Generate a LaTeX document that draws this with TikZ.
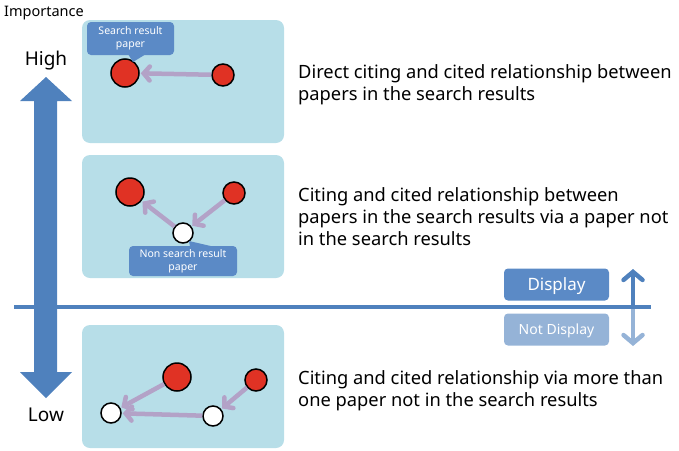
\documentclass[tikz,border=0pt]{standalone}
\usepackage{fontspec}
\setmainfont{Noto Sans}
\usetikzlibrary{arrows.meta}
\definecolor{arrblue}{HTML}{4F81BD}
\definecolor{panel}{HTML}{B7DEE8}
\definecolor{redn}{HTML}{E03224}
\definecolor{lav}{HTML}{B3A2C7}
\definecolor{callc}{HTML}{5B8AC6}
\definecolor{lightb}{HTML}{95B3D7}
\tikzset{
  panelbox/.style={fill=panel, rounded corners=8pt, draw=none},
  bigred/.style={circle, fill=redn, draw=black, line width=1.5pt, minimum size=28pt, inner sep=0pt},
  smallred/.style={circle, fill=redn, draw=black, line width=1.5pt, minimum size=22pt, inner sep=0pt},
  wnode/.style={circle, fill=white, draw=black, line width=1.5pt, minimum size=20pt, inner sep=0pt},
  cite/.style={draw=lav, line width=4.5pt, -{Straight Barb[length=6pt,width=14pt,line cap=round]}, shorten >=1pt, shorten <=0pt},
  callbox/.style={fill=callc, rounded corners=4pt, text=white, font=\fontsize{10.5}{13}\selectfont, align=center, inner sep=0pt},
  desc/.style={anchor=base west, align=left, font=\fontsize{18.3}{22}\selectfont, inner sep=0pt},
  dispbox/.style={rounded corners=4pt, text=white, inner sep=0pt, minimum width=105pt, minimum height=32pt, text depth=0pt},
  sarrow/.style={line width=4.5pt, -{Straight Barb[length=8pt,width=19pt,line cap=round]}}
}
\begin{document}
\begin{tikzpicture}[x=1pt,y=-1pt]
\useasboundingbox (0,0) rectangle (679,450);
% importance label
\node[anchor=base west, font=\fontsize{14.5}{16}\selectfont, inner sep=0pt] (imp) at (4,16) {Importance};
\node[anchor=base, font=\fontsize{19}{22}\selectfont, inner sep=0pt] (high) at (46,65) {High};
\node[anchor=base, font=\fontsize{19}{22}\selectfont, inner sep=0pt] (low) at (46,421) {Low};
% horizontal line
\coordinate (hl) at (14,307);
\coordinate (hr) at (651,307);
\draw[arrblue, line width=4pt] (hl) -- (hr);
% big double arrow
\fill[arrblue] (46,77) -- (72,101) -- (57,101) -- (57,372) -- (72,372) -- (46,398) -- (20,372) -- (34,372) -- (34,101) -- (20,101) -- cycle;
% panels
\fill[panelbox] (82,20) rectangle (284,143);
\fill[panelbox] (82,155) rectangle (284,278);
\fill[panelbox] (82,325) rectangle (284,448);
% panel 1
\node[bigred] (p1a) at (125,73) {};
\node[smallred] (p1b) at (223,75) {};
\draw[cite] (p1b) -- (p1a);
\node[callbox, minimum width=87pt, minimum height=33pt] (c1) at (130.5,38.5) {Search result\\paper};
\fill[callc] (128,54) -- (133,62) -- (146,54) -- cycle;
% panel 2
\node[bigred] (p2a) at (130,192) {};
\node[smallred] (p2b) at (234,193) {};
\node[wnode] (p2w) at (183,233) {};
\draw[cite] (p2w) -- (p2a);
\draw[cite] (p2b) -- (p2w);
\fill[callc] (190,247) -- (189,241) -- (215,247) -- cycle;
\node[callbox, minimum width=108pt, minimum height=30pt] (c2) at (183,261) {Non search result\\paper};
% panel 3
\node[bigred] (p3a) at (177,377) {};
\node[smallred] (p3b) at (256,380) {};
\node[wnode] (p3w1) at (111,413) {};
\node[wnode] (p3w2) at (213,416) {};
\draw[cite] (p3a) -- (p3w1);
\draw[cite] (p3w2) -- (p3w1);
\draw[cite] (p3b) -- (p3w2);
% descriptions (base anchor = baseline of last line)
\node[desc] (d1) at (298,100) {Direct citing and cited relationship between\\papers in the search results};
\node[desc] (d2) at (298,245) {Citing and cited relationship between\\papers in the search results via a paper not\\in the search results};
\node[desc] (d3) at (298,406) {Citing and cited relationship via more than\\one paper not in the search results};
% display boxes
\node[dispbox, fill=callc, font=\fontsize{17}{20}\selectfont, text height=12pt] (disp) at (556.5,284.5) {Display};
\node[dispbox, fill=lightb, font=\fontsize{14}{16}\selectfont, text height=10pt] (ndisp) at (556.5,329.5) {Not Display};
% small double arrow
\coordinate (st) at (633,269);
\coordinate (sm) at (633,307);
\coordinate (sb) at (633,346);
\draw[sarrow, arrblue] (sm) -- (st);
\draw[sarrow, lightb] ([yshift=-2pt]sm) -- (sb);
\end{tikzpicture}
\end{document}
